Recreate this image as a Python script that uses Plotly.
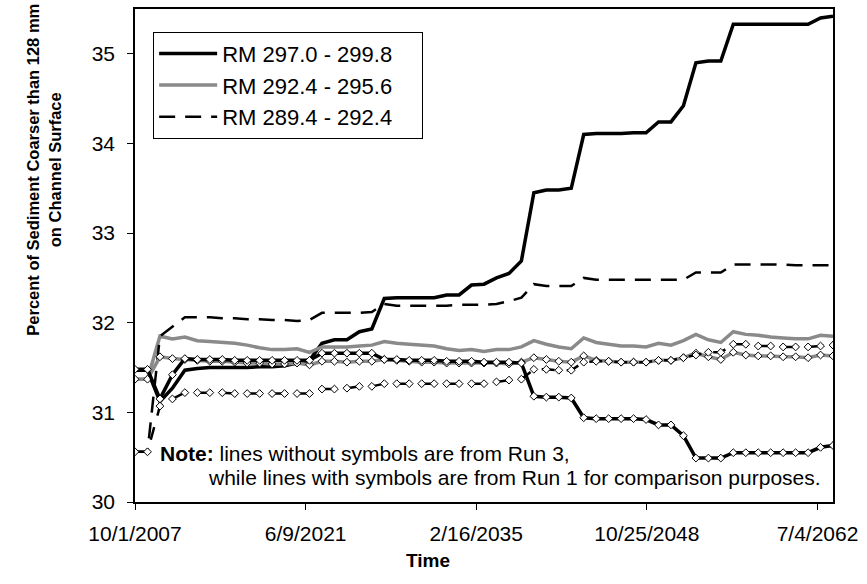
import plotly.graph_objects as go

years = list(range(2007, 2064))
dates = [f"{y}-10-01" for y in years]

tick_dates = ["2007-10-01", "2021-06-09", "2035-02-16", "2048-10-25", "2062-07-04"]
tick_text = ["10/1/2007", "6/9/2021", "2/16/2035", "10/25/2048", "7/4/2062"]

# Run 3 (lines without symbols)
r3_297 = [31.47, 31.47, 31.12, 31.27, 31.47, 31.49, 31.50, 31.50, 31.50, 31.50,
          31.51, 31.51, 31.52, 31.55, 31.58, 31.77, 31.81, 31.81, 31.90, 31.93,
          32.27, 32.28, 32.28, 32.28, 32.28, 32.31, 32.31, 32.42, 32.43, 32.50,
          32.55, 32.69, 33.45, 33.48, 33.48, 33.50, 34.10, 34.11, 34.11, 34.11,
          34.12, 34.12, 34.24, 34.24, 34.42, 34.90, 34.92, 34.92, 35.33, 35.33,
          35.33, 35.33, 35.33, 35.33, 35.33, 35.40, 35.42]
r3_292 = [31.37, 31.37, 31.85, 31.82, 31.84, 31.80, 31.79, 31.78, 31.77, 31.75,
          31.72, 31.70, 31.70, 31.71, 31.67, 31.73, 31.73, 31.73, 31.74, 31.75,
          31.79, 31.77, 31.76, 31.75, 31.74, 31.71, 31.69, 31.70, 31.68, 31.70,
          31.70, 31.73, 31.80, 31.76, 31.73, 31.71, 31.83, 31.78, 31.76, 31.74,
          31.74, 31.73, 31.77, 31.75, 31.80, 31.87, 31.81, 31.78, 31.90, 31.87,
          31.86, 31.84, 31.83, 31.82, 31.82, 31.86, 31.85]
r3_289 = [30.56, 30.56, 31.85, 31.95, 32.06, 32.06, 32.06, 32.05, 32.05, 32.04,
          32.04, 32.03, 32.03, 32.02, 32.03, 32.11, 32.11, 32.11, 32.11, 32.12,
          32.21, 32.19, 32.19, 32.19, 32.19, 32.19, 32.20, 32.20, 32.20, 32.21,
          32.24, 32.28, 32.43, 32.41, 32.41, 32.41, 32.50, 32.48, 32.48, 32.48,
          32.48, 32.48, 32.48, 32.48, 32.48, 32.56, 32.56, 32.56, 32.65, 32.65,
          32.65, 32.65, 32.65, 32.64, 32.64, 32.64, 32.64]

# Run 1 (lines with symbols)
r1_297 = [31.48, 31.48, 31.15, 31.42, 31.60, 31.59, 31.59, 31.59, 31.58, 31.58,
          31.58, 31.58, 31.58, 31.58, 31.58, 31.66, 31.66, 31.66, 31.66, 31.66,
          31.59, 31.59, 31.58, 31.58, 31.58, 31.57, 31.57, 31.57, 31.56, 31.56,
          31.56, 31.55, 31.18, 31.17, 31.17, 31.16, 30.94, 30.93, 30.93, 30.93,
          30.93, 30.92, 30.86, 30.86, 30.74, 30.49, 30.49, 30.49, 30.55, 30.55,
          30.55, 30.55, 30.55, 30.55, 30.55, 30.61, 30.63]
r1_292 = [31.37, 31.37, 31.62, 31.60, 31.59, 31.58, 31.57, 31.57, 31.56, 31.55,
          31.55, 31.54, 31.54, 31.55, 31.53, 31.57, 31.57, 31.56, 31.57, 31.57,
          31.59, 31.58, 31.57, 31.56, 31.56, 31.55, 31.55, 31.55, 31.55, 31.55,
          31.54, 31.56, 31.61, 31.59, 31.57, 31.56, 31.63, 31.58, 31.57, 31.56,
          31.56, 31.56, 31.58, 31.58, 31.61, 31.66, 31.62, 31.59, 31.67, 31.64,
          31.63, 31.63, 31.62, 31.62, 31.61, 31.64, 31.63]
r1_289 = [30.56, 30.56, 31.07, 31.15, 31.22, 31.22, 31.22, 31.22, 31.21, 31.21,
          31.21, 31.21, 31.21, 31.21, 31.21, 31.26, 31.26, 31.27, 31.29, 31.29,
          31.32, 31.32, 31.32, 31.32, 31.32, 31.32, 31.32, 31.32, 31.32, 31.34,
          31.36, 31.37, 31.48, 31.48, 31.47, 31.47, 31.56, 31.57, 31.57, 31.56,
          31.56, 31.56, 31.58, 31.58, 31.61, 31.64, 31.67, 31.67, 31.76, 31.76,
          31.74, 31.74, 31.73, 31.73, 31.73, 31.74, 31.75]

names = ["RM 297.0 - 299.8", "RM 292.4 - 295.6", "RM 289.4 - 292.4"]
PAD = "\u00a0" * 4
GRAY = "#8a8a8a"
FONT = "Liberation Sans, Arial, sans-serif"

fig = go.Figure()

# Run 3 series
fig.add_trace(go.Scatter(x=dates, y=r3_297, mode="lines", name=names[0] + PAD,
                         line=dict(color="black", width=3.5)))
fig.add_trace(go.Scatter(x=dates, y=r3_292, mode="lines", name=names[1] + PAD,
                         line=dict(color=GRAY, width=3.5)))
fig.add_trace(go.Scatter(x=dates, y=r3_289, mode="lines", name=names[2] + PAD,
                         line=dict(color="black", width=2.5, dash="16px,10px")))

mk = dict(symbol="diamond", size=6, color="white", line=dict(color="black", width=1))
# Run 1 series
fig.add_trace(go.Scatter(x=dates, y=r1_292, mode="lines+markers", showlegend=False,
                         line=dict(color=GRAY, width=3.5), marker=mk))
fig.add_trace(go.Scatter(x=dates, y=r1_297, mode="lines+markers", showlegend=False,
                         line=dict(color="black", width=3.5), marker=mk))
fig.add_trace(go.Scatter(x=dates, y=r1_289, mode="lines+markers", showlegend=False,
                         line=dict(color="black", width=2.5, dash="13px,12px"), marker=mk))

fig.update_layout(
    width=867, height=584,
    margin=dict(l=135, r=34, t=7, b=82),
    paper_bgcolor="white", plot_bgcolor="white",
    font=dict(family=FONT, color="black", size=20),
    showlegend=True,
    legend=dict(x=0.026, y=0.954, xanchor="left", yanchor="top",
                bordercolor="black", borderwidth=1, bgcolor="white",
                font=dict(size=22, family=FONT), itemwidth=58,
                traceorder="normal", tracegroupgap=0),
    xaxis=dict(type="date", range=["2007-10-01", "2063-10-01"],
               tickvals=tick_dates, ticktext=tick_text,
               ticks="outside", ticklen=6, tickwidth=1, tickcolor="black",
               showline=True, linecolor="black", linewidth=1.5, mirror=True,
               showgrid=False, zeroline=False, ticklabelstandoff=6,
               tickfont=dict(size=21, family=FONT)),
    yaxis=dict(range=[30, 35.5], tickvals=[30, 31, 32, 33, 34, 35],
               ticks="outside", ticklen=6, tickwidth=1, tickcolor="black",
               showline=True, linecolor="black", linewidth=1.5, mirror=True,
               showgrid=False, zeroline=False, ticklabelstandoff=8,
               tickfont=dict(size=21, family=FONT)),
    annotations=[
        dict(text="<b>Time</b>", xref="paper", yref="paper", x=0.42, y=0,
             yshift=-58, xanchor="center", yanchor="middle", showarrow=False,
             font=dict(size=19, family=FONT)),
        dict(text="<b>Percent of Sediment Coarser than 128 mm<br>on Channel Surface</b>",
             xref="paper", yref="paper", x=0, y=0.674, xshift=-91,
             xanchor="center", yanchor="middle", textangle=-90, showarrow=False,
             font=dict(size=16.5, family=FONT)),
        dict(text="<b>Note:</b> lines without symbols are from Run 3,",
             xref="paper", yref="paper", x=0.033, y=0.099,
             xanchor="left", yanchor="middle", showarrow=False,
             font=dict(size=21, family=FONT)),
        dict(text="while lines with symbols are from Run 1 for comparison purposes.",
             xref="paper", yref="paper", x=0.9857, y=0.049,
             xanchor="right", yanchor="middle", showarrow=False,
             font=dict(size=21, family=FONT)),
    ],
)

fig.write_html("out.html")
